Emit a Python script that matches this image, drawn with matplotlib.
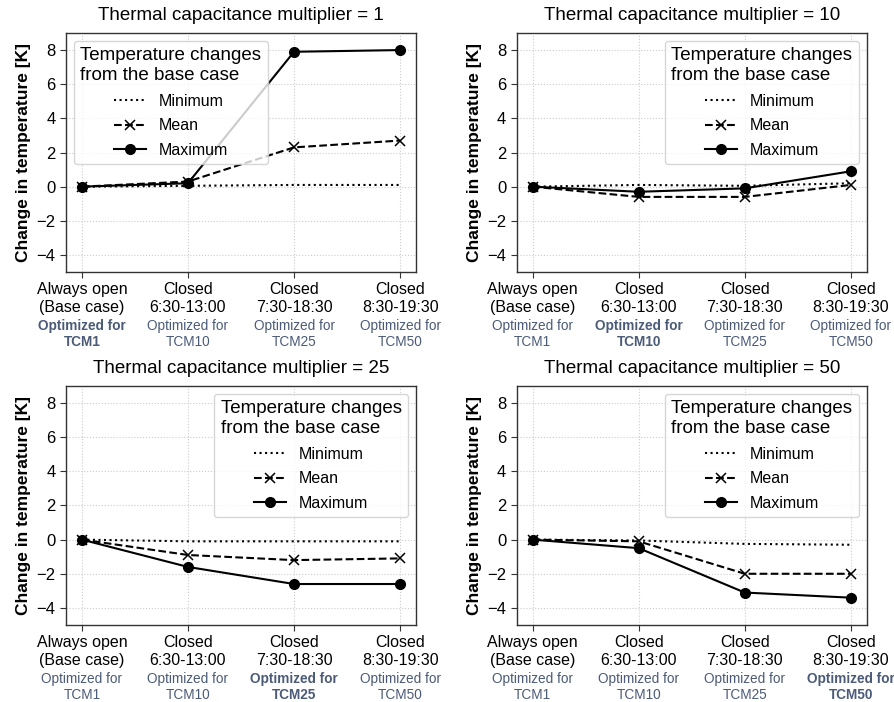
import matplotlib
matplotlib.use("Agg")
import matplotlib.pyplot as plt
import matplotlib.transforms as mtransforms

plt.rcParams['font.family'] = ['Liberation Sans', 'DejaVu Sans']

# categories / labels
cases = ["Always open\n(Base case)", "Closed\n6:30-13:00",
         "Closed\n7:30-18:30", "Closed\n8:30-19:30"]
optimized = ["TCM1", "TCM10", "TCM25", "TCM50"]
multipliers = [1, 10, 25, 50]

# temperature change from base case [K], one list per panel
t_min = [
    [0.0, 0.05, 0.1, 0.1],
    [0.0, 0.1, 0.05, 0.2],
    [0.0, -0.1, -0.1, -0.1],
    [0.0, -0.05, -0.25, -0.3],
]
t_mean = [
    [0.0, 0.3, 2.3, 2.7],
    [0.0, -0.6, -0.6, 0.1],
    [0.0, -0.9, -1.2, -1.1],
    [0.0, -0.1, -2.0, -2.0],
]
t_max = [
    [0.0, 0.2, 7.9, 8.0],
    [0.0, -0.3, -0.1, 0.9],
    [0.0, -1.6, -2.6, -2.6],
    [0.0, -0.5, -3.1, -3.4],
]

sub_color = "#4b5b78"

fig = plt.figure(figsize=(8.94, 7.02), dpi=100)
w, h = 0.3915, 0.3405
positions = [(0.0738, 0.6125), (0.578, 0.6125), (0.0738, 0.1097), (0.578, 0.1097)]

for i, (left, bottom) in enumerate(positions):
    ax = fig.add_axes([left, bottom, w, h])
    x = range(len(cases))
    ax.plot(x, t_min[i], linestyle=':', color='black', lw=1.5, label='Minimum')
    ax.plot(x, t_mean[i], linestyle='--', color='black', lw=1.5, marker='x',
            markersize=6.5, markeredgewidth=1.1, label='Mean')
    ax.plot(x, t_max[i], linestyle='-', color='black', lw=1.5, marker='o',
            markersize=7, label='Maximum')

    ax.set_xlim(-0.15, 3.15)
    ax.set_ylim(-5, 9)
    ax.set_yticks([-4, -2, 0, 2, 4, 6, 8])
    ax.set_xticks(list(x))
    ax.set_xticklabels(cases, fontsize=11.5)
    ax.tick_params(axis='y', labelsize=12)
    ax.tick_params(axis='both', direction='out', length=4, color='#333333')
    ax.grid(True, linestyle=':', color='#cccccc', linewidth=0.8)
    ax.set_axisbelow(True)
    for s in ax.spines.values():
        s.set_color('#333333')
        s.set_linewidth(1.0)

    ax.set_ylabel("Change in temperature [K]", fontsize=12.5, fontweight='bold')
    ax.set_title(f"Thermal capacitance multiplier = {multipliers[i]}",
                 fontsize=13.5, pad=9)

    trans = mtransforms.blended_transform_factory(ax.transData, ax.transAxes)
    for j, tcm in enumerate(optimized):
        ax.text(j, -0.195, f"Optimized for\n{tcm}", transform=trans,
                ha='center', va='top', fontsize=9.8, color=sub_color,
                fontweight='bold' if j == i else 'normal', linespacing=1.2)

    leg = ax.legend(title="Temperature changes\nfrom the base case",
                    loc='upper left' if i == 0 else 'upper right',
                    fontsize=11.5, title_fontsize=13.5, framealpha=0.8,
                    labelspacing=0.6)
    leg.get_title().set_multialignment('left')

fig.savefig("out.png", dpi=100)
